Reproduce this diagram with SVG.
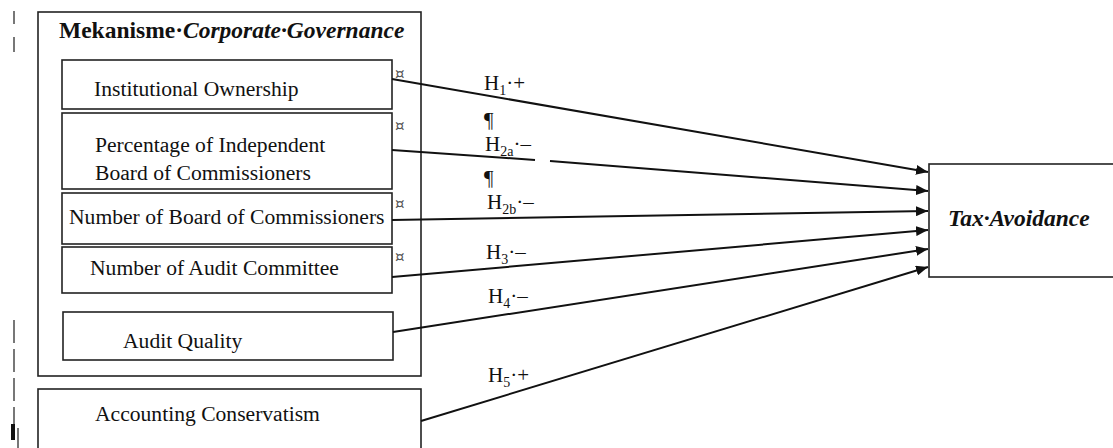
<svg xmlns="http://www.w3.org/2000/svg" width="1113" height="448" viewBox="0 0 1113 448">
<style>
.box{fill:#fff;stroke:#222;stroke-width:1.6}
.grp{fill:none;stroke:#222;stroke-width:1.6}
.t{font-family:"Liberation Serif","Times New Roman",serif;font-size:21.6px;fill:#111}
.ttl{font-size:23.5px}
.h{font-family:"Liberation Serif","Times New Roman",serif;font-size:21px;fill:#111}
.sub{font-size:14px}
.b{font-weight:bold}
.bi{font-weight:bold;font-style:italic}
.mark{font-family:"DejaVu Sans",sans-serif;font-size:15px;fill:#555}
.edge{stroke:#111;stroke-width:2;fill:none;marker-end:url(#ah)}
.pm{stroke:#777;stroke-width:2}
</style>
<defs>
<marker id="ah" viewBox="0 0 12 10" refX="12" refY="5" markerWidth="12" markerHeight="10" markerUnits="userSpaceOnUse" orient="auto">
<path d="M0,0 L12,5 L0,10 z" fill="#111"/>
</marker>
</defs>
<rect width="1113" height="448" fill="#fff"/>

<g id="margin-marks">
<line class="pm" x1="14" y1="11" x2="14" y2="24"/>
<line class="pm" x1="14" y1="37" x2="14" y2="52"/>
<line class="pm" x1="14" y1="320" x2="14" y2="343"/>
<line class="pm" x1="14" y1="349" x2="14" y2="372"/>
<line class="pm" x1="14" y1="378" x2="14" y2="401"/>
<line class="pm" x1="14" y1="407" x2="14" y2="430"/>
<line stroke="#111" stroke-width="4" x1="13" y1="424" x2="13" y2="440"/>
<line class="pm" x1="18" y1="428" x2="18" y2="448"/>
</g>

<g id="corporate-governance-group">
<rect class="grp" x="38" y="12" width="383" height="364"/>
<text class="t ttl" x="59" y="38"><tspan class="b">Mekanisme·</tspan><tspan class="bi">Corporate·Governance</tspan></text>
</g>

<g id="institutional-ownership">
<rect class="box" x="62" y="60" width="330" height="49"/>
<text class="t" x="94" y="96">Institutional Ownership</text>
<text class="mark" x="395" y="79">¤</text>
</g>

<g id="independent-board">
<rect class="box" x="62" y="113" width="330" height="76"/>
<text class="t" x="95" y="152">Percentage of Independent</text>
<text class="t" x="95" y="180">Board of Commissioners</text>
<text class="mark" x="395" y="131">¤</text>
</g>

<g id="number-board">
<rect class="box" x="62" y="193" width="330" height="51"/>
<text class="t" x="69" y="224">Number of Board of Commissioners</text>
<text class="mark" x="395" y="209">¤</text>
</g>

<g id="audit-committee">
<rect class="box" x="62" y="247" width="330" height="46"/>
<text class="t" x="90" y="275">Number of Audit Committee</text>
<text class="mark" x="395" y="262">¤</text>
</g>

<g id="audit-quality">
<rect class="box" x="63" y="312" width="330" height="48"/>
<text class="t" x="123" y="348">Audit Quality</text>
</g>

<g id="accounting-conservatism">
<rect class="box" x="38" y="389" width="383" height="70"/>
<text class="t" x="95" y="421">Accounting Conservatism</text>
</g>

<g id="tax-avoidance">
<rect class="box" x="929" y="164" width="190" height="113"/>
<text class="t bi" x="948" y="226" style="font-size:23.5px">Tax·Avoidance</text>
</g>

<g id="connectors">
<line class="edge" x1="392" y1="79" x2="928" y2="172"/>
<line stroke="#111" stroke-width="2" x1="392" y1="150" x2="535" y2="160"/>
<line class="edge" x1="550" y1="161" x2="928" y2="191"/>
<line class="edge" x1="392" y1="220" x2="928" y2="211"/>
<line class="edge" x1="392" y1="277" x2="928" y2="230"/>
<line class="edge" x1="393" y1="332" x2="928" y2="249"/>
<line class="edge" x1="421" y1="421" x2="928" y2="267"/>
</g>

<g id="hypothesis-labels">
<text class="h" x="484" y="90">H<tspan class="sub" dy="5">1</tspan><tspan dy="-5">·+</tspan></text>
<text class="h" x="484" y="127">¶</text>
<text class="h" x="485" y="151">H<tspan class="sub" dy="5">2a</tspan><tspan dy="-5">·–</tspan></text>
<text class="h" x="484" y="185">¶</text>
<text class="h" x="487" y="209">H<tspan class="sub" dy="5">2b</tspan><tspan dy="-5">·–</tspan></text>
<text class="h" x="486" y="259">H<tspan class="sub" dy="5">3</tspan><tspan dy="-5">·–</tspan></text>
<text class="h" x="488" y="303">H<tspan class="sub" dy="5">4</tspan><tspan dy="-5">·–</tspan></text>
<text class="h" x="488" y="382">H<tspan class="sub" dy="5">5</tspan><tspan dy="-5">·+</tspan></text>
</g>
</svg>
